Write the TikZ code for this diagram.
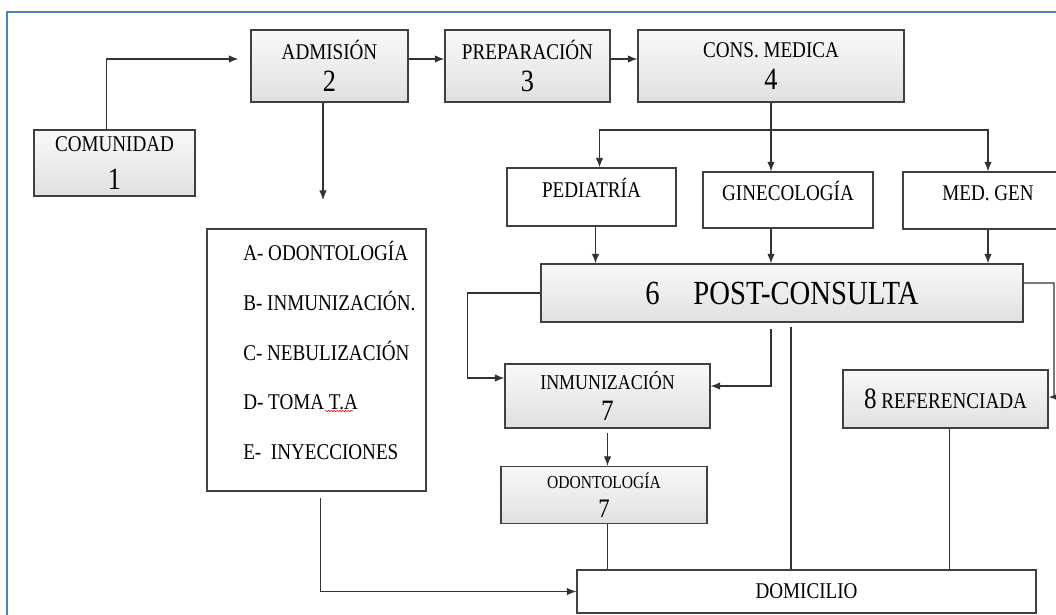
\documentclass[tikz,border=0pt]{standalone}
\usepackage{fontspec}
\setmainfont{Liberation Serif}[FakeStretch=0.85]
\usetikzlibrary{arrows.meta,positioning,decorations.pathmorphing}

\newcommand{\boxfont}{\fontsize{16}{19}\selectfont}
\newcommand{\bignum}{\fontsize{22}{22}\selectfont}

\tikzset{
  wh/.style 2 args={minimum width=#1*0.025cm, minimum height=#2*0.025cm},
  box/.style={draw=black!75, line width=0.9pt, top color=gray!5, bottom color=gray!24,
    align=center, inner sep=0pt, font=\boxfont},
  plain/.style={draw=black!75, line width=0.9pt, fill=white, align=center, inner sep=0pt, font=\boxfont},
  arr/.style={draw=black!80, line width=0.8pt, -{Latex[length=2.4mm,width=1.9mm]}},
  ln/.style={draw=black!80, line width=0.8pt},
  frame/.style={draw={rgb,255:red,79;green,129;blue,189}, line width=1.8pt}
}

\begin{document}
\begin{tikzpicture}[x=0.025cm, y=-0.025cm]
  \useasboundingbox (0,0) rectangle (1056,614);
  \draw[frame] (7,620) -- (7,12) -- (1060,12);

  \node[box, wh={161}{66}] (com) at (114.5,163) {COMUNIDAD\\[2pt]{\bignum\rule{0pt}{24pt}1}};
  \node[box, wh={157}{72}] (adm) at (329.5,66) {ADMISIÓN\\[4pt]{\bignum 2}};
  \node[box, wh={165}{72}] (prep) at (527.5,66) {PREPARACIÓN\\[4pt]{\bignum 3}};
  \node[box, wh={266}{72}] (cons) at (771,66) {CONS. MEDICA\\[4pt]{\bignum 4}};

  \node[plain, wh={169}{58}, text depth=0.45cm] (ped) at (591.5,197) {PEDIATRÍA};
  \node[plain, wh={170}{56}, text depth=0.45cm] (gin) at (788,200) {GINECOLOGÍA};
  \node[plain, wh={170}{57}, text depth=0.35cm] (med) at (988,200.5) {MED. GEN};

  \node[box, wh={482}{58}, font=\fontsize{24}{28}\selectfont] (post) at (782,293) {6\quad POST-CONSULTA};

  \node[box, wh={205}{64}, font=\fontsize{15}{18}\selectfont] (inm) at (607.5,396)
    {INMUNIZACIÓN\\[4pt]{\fontsize{21}{21}\selectfont 7}};
  \node[box, wh={205}{58}] (ref) at (945.5,399) {{\fontsize{21}{21}\selectfont 8} REFERENCIADA};
  \node[box, wh={206}{57}, font=\fontsize{13}{16}\selectfont] (odo) at (604,495)
    {ODONTOLOGÍA\\[4.5pt]{\fontsize{19}{19}\selectfont 7}};

  \node[plain, wh={219}{262}] (lst) at (316.5,360) {};
  \node[anchor=west, align=left, inner sep=0pt, font=\fontsize{16}{35.5}\selectfont] (lsttxt) at (243,350.5)
    {A- ODONTOLOGÍA\\B- INMUNIZACIÓN.\\C- NEBULIZACIÓN\\D- TOMA T.A\\E-\ \ INYECCIONES};
  \draw[red, line width=0.4pt, decorate, decoration={snake, amplitude=0.5pt, segment length=2pt}]
    (325,411) -- (353,411);

  \node[plain, wh={459}{43}] (dom) at (806.5,591.5) {DOMICILIO};

  \coordinate (admend) at (323,200);
  \coordinate (fork) at (770,130);
  \coordinate (rturn) at (1054,283);

  \draw[arr, shorten >=0.3cm] ([xshift=-0.2cm]com.north) |- ([yshift=0.175cm]adm.west);
  \draw[arr] ([yshift=0.175cm]adm.east) -- ([yshift=0.175cm]prep.west);
  \draw[arr] ([yshift=0.175cm]prep.east) -- ([yshift=0.175cm]cons.west);
  \draw[arr] (adm.south -| admend) -- (admend);

  \draw[arr] (cons.south) -- (cons.south |- gin.north);
  \draw[arr] (fork) -| ([xshift=0.2cm]ped.north);
  \draw[arr] (fork) -| (med.north);

  \draw[arr] ([xshift=0.1cm]ped.south) -- ([xshift=0.1cm]ped.south |- post.north);
  \draw[arr] (cons.south |- gin.south) -- (cons.south |- post.north);
  \draw[arr] (med.south) -- (med.south |- post.north);

  \draw[arr] (post.west) -- ++(-1.825cm,0) |- ([yshift=0.45cm]inm.west);
  \draw[arr, shorten <=0.17cm] ([xshift=-0.275cm]post.south) |- ([yshift=0.25cm]inm.east);
  \draw[ln, shorten <=0.12cm] ([xshift=0.225cm]post.south) -- ([xshift=0.225cm]post.south |- dom.north);
  \draw[arr] ([yshift=0.25cm]post.east) -- (rturn) |- ([yshift=0.05cm]ref.east);

  \draw[arr, shorten <=0.1cm] (inm.south) -- (inm.south |- odo.north);
  \draw[ln] (inm.south |- odo.south) -- (inm.south |- dom.north);
  \draw[ln] ([xshift=0.1cm]ref.south) -- ([xshift=0.1cm]ref.south |- dom.north);
  \draw[arr, shorten <=0.15cm] ([xshift=0.1cm]lst.south) |- (dom.west);
\end{tikzpicture}
\end{document}
